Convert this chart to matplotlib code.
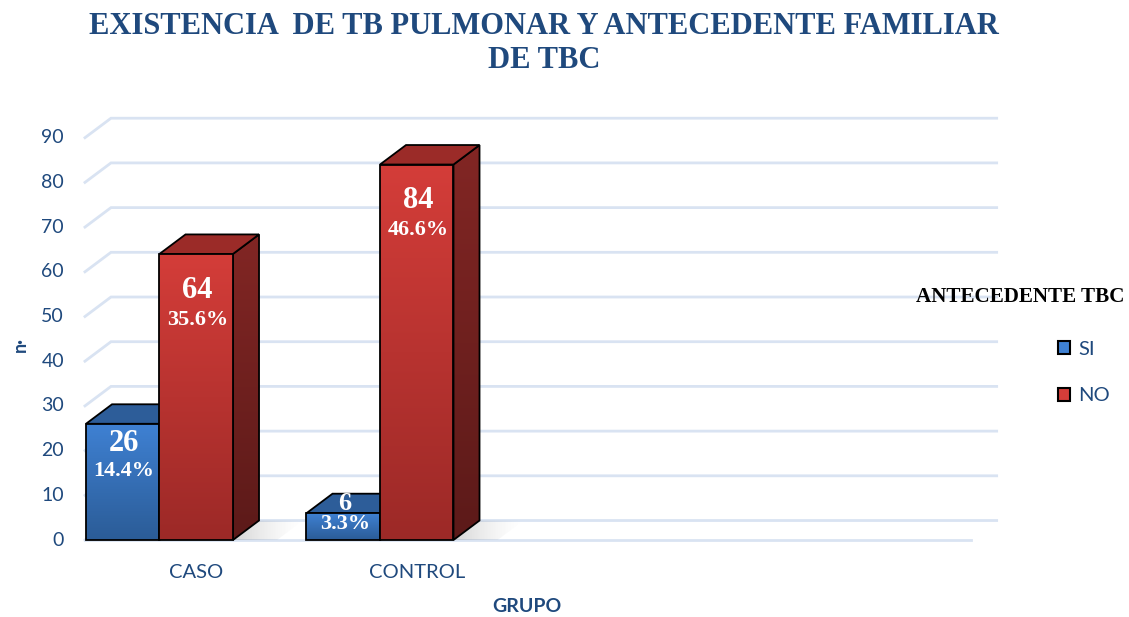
import numpy as np
import matplotlib.pyplot as plt
from matplotlib.patches import Polygon, Patch
from matplotlib.colors import LinearSegmentedColormap

grupos = ["CASO", "CONTROL"]
series = ["SI", "NO"]
si_vals = [26, 6]
no_vals = [64, 84]
si_pct = ["14.4%", "3.3%"]
no_pct = ["35.6%", "46.6%"]
yticks = list(range(0, 100, 10))

# label offsets (value label, percent label) relative to bar top, in data units
si_off = [(-4.3, -10.6), (2.2, -2.5)]
no_off = [(-8.1, -14.7), (-8.1, -14.7)]
si_size = [22, 19]

BLUE = dict(front=("#3f81d3", "#2b5c97"), top="#2d5d99", side=("#23497a", "#1b3a62"))
RED = dict(front=("#d43d39", "#9c2927"), top="#9b2b28", side=("#822624", "#5c1a19"))
TXT = "#1f497d"
GRID = "#d9e3f2"

DX, DY = 0.354, 4.36  # 3d depth offsets

fig = plt.figure(figsize=(11.29, 6.17), dpi=100)
ax = fig.add_axes([0.01107, 0.05235, 0.91143, 0.79692])
ax.set_axis_off()


def grad_poly(pts, c_top, c_bot, z):
    poly = Polygon(pts, closed=True, facecolor="none", edgecolor="black", lw=1.3, zorder=z + 0.1)
    ax.add_patch(poly)
    xs, ys = zip(*pts)
    cmap = LinearSegmentedColormap.from_list("g", [c_bot, c_top])
    img = ax.imshow(np.linspace(0, 1, 256).reshape(-1, 1), cmap=cmap, origin="lower",
                    extent=(min(xs), max(xs), min(ys), max(ys)), aspect="auto",
                    zorder=z, interpolation="bilinear")
    img.set_clip_path(poly)


def shadow(xr, z):
    pts = [(xr, 0), (xr + DX, DY), (xr + DX + 0.6, DY), (xr + 0.6, 0)]
    poly = Polygon(pts, closed=True, facecolor="none", edgecolor="none")
    ax.add_patch(poly)
    g = np.zeros((2, 256, 4))
    g[..., :3] = 0.45
    g[..., 3] = np.linspace(0.45, 0, 256) ** 1.5
    img = ax.imshow(g, origin="lower", extent=(xr, xr + DX + 0.6, 0, DY),
                    aspect="auto", zorder=z, interpolation="bilinear")
    img.set_clip_path(poly)


def box(x0, h, c, z):
    front = [(x0, 0), (x0 + 1, 0), (x0 + 1, h), (x0, h)]
    top = [(x0, h), (x0 + 1, h), (x0 + 1 + DX, h + DY), (x0 + DX, h + DY)]
    side = [(x0 + 1, 0), (x0 + 1 + DX, DY), (x0 + 1 + DX, h + DY), (x0 + 1, h)]
    grad_poly(side, c["side"][0], c["side"][1], z)
    ax.add_patch(Polygon(top, closed=True, facecolor=c["top"], edgecolor="black", lw=1.3, zorder=z + 0.1))
    grad_poly(front, c["front"][0], c["front"][1], z + 0.2)


# grid: left wall slant + back wall lines, plus floor front edge
x_start = -0.014
x_end = 12.39
for v in yticks:
    ax.plot([x_start, x_start + DX, x_end], [v, v + DY, v + DY], color=GRID, lw=2, zorder=1,
            solid_joinstyle="miter")
ax.plot([x_start, x_end - DX], [0, 0], color=GRID, lw=2, zorder=1)

for v in yticks:
    ax.text(-0.3, v, str(v), ha="right", va="center", fontsize=14, color=TXT, family="Lato")

for i, g in enumerate(grupos):
    x0 = i * 3
    shadow(x0 + 2, 2)
    box(x0, si_vals[i], BLUE, 3)
    box(x0 + 1, no_vals[i], RED, 5)
    for xb, val, pct, off, fs in [(x0, si_vals[i], si_pct[i], si_off[i], si_size[i]),
                                  (x0 + 1, no_vals[i], no_pct[i], no_off[i], 22)]:
        ax.text(xb + 0.52, val + off[0], str(val), ha="center", va="center", color="white",
                fontsize=fs, fontweight="bold", family="Liberation Serif", zorder=10)
        ax.text(xb + 0.52, val + off[1], pct, ha="center", va="center", color="white",
                fontsize=16, fontweight="bold", family="Liberation Serif", zorder=10)
    ax.text(x0 + 1.5, -7.2, g, ha="center", va="center", fontsize=14.5, color=TXT, family="Lato")

ax.set_xlim(-1, 13)
ax.set_ylim(-10, 100)

fig.text(544 / 1129, 1 - 43.5 / 617, "EXISTENCIA  DE TB PULMONAR Y ANTECEDENTE FAMILIAR\nDE TBC",
         ha="center", va="center", fontsize=22, fontweight="bold", color=TXT,
         family="Liberation Serif", linespacing=1.2)
fig.text(527 / 1129, 1 - 607 / 617, "GRUPO", ha="center", va="center", fontsize=14,
         fontweight="bold", color=TXT, family="Lato")
fig.text(20 / 1129, 1 - 345 / 617, "n·", ha="center", va="center", rotation=90, fontsize=13,
         fontweight="bold", color=TXT, family="Lato")

fig.text(1020 / 1129, 1 - 297 / 617, "ANTECEDENTE TBC", ha="center", va="center", fontsize=15.2,
         fontweight="bold", color="black", family="Liberation Serif")
handles = [Patch(facecolor=BLUE["front"][0], edgecolor="black", lw=1.5, label=series[0]),
           Patch(facecolor=RED["front"][0], edgecolor="black", lw=1.5, label=series[1])]
leg = fig.legend(handles=handles, loc="upper left", bbox_to_anchor=(1058 / 1129, 1 - 341 / 617),
                 frameon=False, labelspacing=1.45, handlelength=0.62,
                 handleheight=0.62, handletextpad=0.4, borderpad=0, borderaxespad=0,
                 prop={"family": "Lato", "size": 14.5})
for t in leg.get_texts():
    t.set_color(TXT)

fig.savefig("out.png", dpi=100)
